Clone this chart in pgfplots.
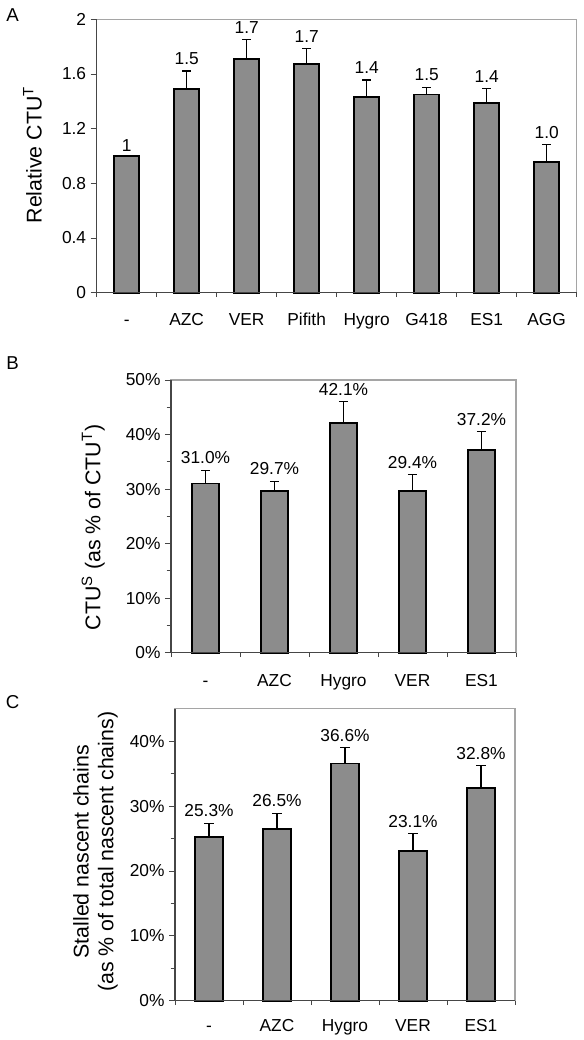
\documentclass[border=0pt]{standalone}
\usepackage{pgfplots}
\pgfplotsset{compat=1.18}
\usepackage{pgfplotstable}
\usepackage{fontspec}
\setmainfont{Liberation Sans}
\definecolor{barfill}{RGB}{140,140,140}
\definecolor{framegray}{RGB}{165,165,165}
\definecolor{axisdark}{RGB}{70,70,70}

\pgfplotstableread{
x y e t lab
0 1.00 0.000 0.987 1
1 1.488 0.134 1.622 1.5
2 1.710 0.144 1.854 1.7
3 1.671 0.117 1.788 1.7
4 1.429 0.127 1.556 1.4
5 1.449 0.053 1.502 1.5
6 1.390 0.105 1.495 1.4
7 0.954 0.129 1.083 1.0
}\dataA

\pgfplotstableread{
x y e t lab
0 31.0 2.46 33.46 31.0
1 29.7 1.73 31.43 29.7
2 42.1 3.98 46.08 42.1
3 29.6 3.00 32.60 29.4
4 37.2 3.36 40.56 37.2
}\dataB

\pgfplotstableread{
x y e t lab
0 25.3 2.05 27.35 25.3
1 26.5 2.40 28.90 26.5
2 36.6 2.42 39.02 36.6
3 23.1 2.65 25.75 23.1
4 32.8 3.48 36.28 32.8
}\dataC

\pgfplotsset{
  panel/.style={
    scale only axis,
    axis line style={framegray, line width=0.8pt},
    tick align=outside,
    xtick pos=bottom, ytick pos=left,
    major tick length=4.5pt,
    minor tick length=3.3pt,
    every tick/.style={axisdark, line width=0.7pt},
    major x tick style={draw=none},
    ymin=0,
    /pgf/number format/assume math mode=true,
    yticklabel style={font=\fontsize{13}{15}\selectfont, inner sep=3.2pt},
    xticklabel style={font=\fontsize{13}{15}\selectfont, anchor=base, inner sep=0pt},
    clip=false,
  },
  barstyle/.style={
    ybar, bar width=#1, fill=barfill, draw=black, line width=1.3pt, mark=none,
    error bars/.cd, y dir=plus, y explicit,
    error bar style={black, line width=0.8pt},
    error mark options={rotate=90, black, mark size=3.4pt, line width=0.8pt},
  },
  labstyle/.style={
    draw=none, mark=none, nodes near coords, point meta=explicit symbolic,
    every node near coord/.append style={anchor=south, font=\fontsize{13}{15}\selectfont, inner sep=2pt, yshift=2.5pt, black},
  },
}

\begin{document}
\begin{tikzpicture}
\path (0,0) rectangle (438pt,780pt);

% ---------- Panel A ----------
\begin{axis}[panel,
  at={(72.5pt,560.5pt)}, anchor=south west,
  width=360pt, height=205pt,
  xmin=-0.5, xmax=7.5, ymax=2,
  xtick={0,...,7},
  xticklabels={-,AZC,VER,Pifith,Hygro,G418,ES1,AGG},
  minor xtick={-0.5,0.5,1.5,2.5,3.5,4.5,5.5,6.5,7.5},
  ytick={0,0.4,0.8,1.2,1.6,2},
  yticklabels={0,0.4,0.8,1.2,1.6,2},
  xticklabel style={yshift=-20.5pt},
]
\addplot[barstyle=18.75pt] table[x=x,y=y,y error=e] {\dataA};
\addplot[labstyle] table[x=x,y=t,meta=lab] {\dataA};
\draw[axisdark, line width=0.9pt] (rel axis cs:0,1) -- (rel axis cs:0,0) -- (rel axis cs:1,0);
\end{axis}

% ---------- Panel B ----------
\begin{axis}[panel,
  at={(128.25pt,290.5pt)}, anchor=south west,
  width=258.75pt, height=204.5pt,
  xmin=-0.5, xmax=4.5, ymax=50,
  xtick={0,...,4},
  xticklabels={-,AZC,Hygro,VER,ES1},
  minor xtick={-0.5,0.5,1.5,2.5,3.5,4.5},
  ytick={0,10,20,30,40,50},
  yticklabels={0\%,10\%,20\%,30\%,40\%,50\%},
  minor ytick={5,15,25,35,45},
  xticklabel style={yshift=-20.7pt},
]
\addplot[barstyle=20.7pt] table[x=x,y=y,y error=e] {\dataB};
\addplot[labstyle, nodes near coords={\pgfplotspointmeta\%}] table[x=x,y=t,meta=lab] {\dataB};
\draw[axisdark, line width=0.9pt] (rel axis cs:0,1) -- (rel axis cs:0,0) -- (rel axis cs:1,0);
\end{axis}

% ---------- Panel C ----------
\begin{axis}[panel,
  at={(131.25pt,29.5pt)}, anchor=south west,
  width=255pt, height=218.8pt,
  xmin=-0.5, xmax=4.5, ymax=45,
  xtick={0,...,4},
  xticklabels={-,AZC,Hygro,VER,ES1},
  minor xtick={-0.5,0.5,1.5,2.5,3.5,4.5},
  ytick={0,10,20,30,40},
  yticklabels={0\%,10\%,20\%,30\%,40\%},
  minor ytick={5,15,25,35},
  xticklabel style={yshift=-18.5pt},
]
\addplot[barstyle=20.7pt] table[x=x,y=y,y error=e] {\dataC};
\addplot[labstyle, nodes near coords={\pgfplotspointmeta\%}] table[x=x,y=t,meta=lab] {\dataC};
\draw[axisdark, line width=0.9pt] (rel axis cs:0,1) -- (rel axis cs:0,0) -- (rel axis cs:1,0);
\end{axis}

% ---------- Labels ----------
\node[font=\fontsize{14}{16}\selectfont] at (9.5pt,768.5pt) {A};
\node[font=\fontsize{14}{16}\selectfont] at (9.5pt,507.5pt) {B};
\node[font=\fontsize{14}{16}\selectfont] at (9.5pt,253.5pt) {C};

\node[rotate=90, anchor=base, font=\fontsize{16}{19}\selectfont] at (31.3pt,663.75pt) {Relative CTU\textsuperscript{T}};
\node[rotate=90, anchor=base, font=\fontsize{16}{19}\selectfont] at (75.3pt,384.4pt) {CTU\textsuperscript{S} (as \% of CTU\textsuperscript{T})};
\node[rotate=90, anchor=base, font=\fontsize{16}{19}\selectfont] at (66.5pt,141.2pt) {Stalled nascent chains};
\node[rotate=90, anchor=base, font=\fontsize{16}{19}\selectfont] at (85.1pt,141.2pt) {(as \% of total nascent chains)};
\end{tikzpicture}
\end{document}
